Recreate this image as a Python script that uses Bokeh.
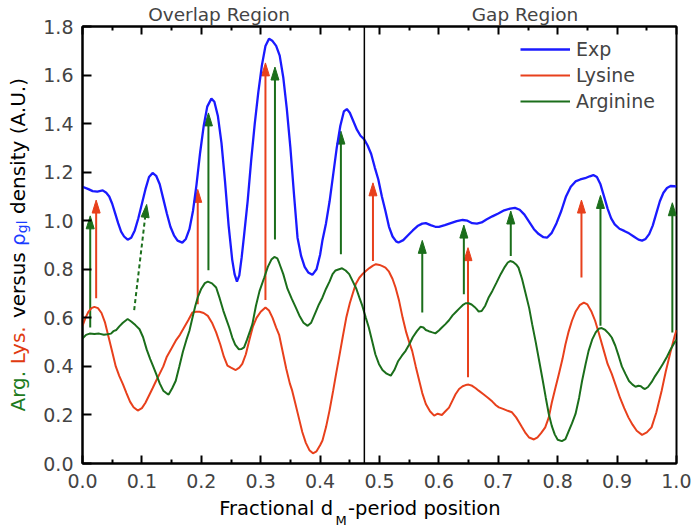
import math
from bokeh.plotting import figure
from bokeh.layouts import row, column
from bokeh.models import (Range1d, LinearAxis, Label, Legend, LegendItem,
                          FixedTicker, PrintfTickFormatter, Span)
from bokeh.embed import file_html
from bokeh.resources import INLINE

# ---------------- data ----------------
x_ticks = [0.0, 0.1, 0.2, 0.3, 0.4, 0.5, 0.6, 0.7, 0.8, 0.9, 1.0]
x_minor = [0.05, 0.15, 0.25, 0.35, 0.45, 0.55, 0.65, 0.75, 0.85, 0.95]
y_ticks = [0.0, 0.2, 0.4, 0.6, 0.8, 1.0, 1.2, 1.4, 1.6, 1.8]
region_boundary = 0.4745
region_names = ["Overlap Region", "Gap Region"]
region_centers = [0.23, 0.745]
series_names = ["Exp", "Lysine", "Arginine"]

exp_x = [0.000, 0.010, 0.017, 0.025, 0.034, 0.040, 0.045, 0.050, 0.055, 0.060, 0.065, 0.070,
         0.076, 0.082, 0.088, 0.094, 0.100, 0.106, 0.112, 0.118, 0.124, 0.130, 0.136, 0.142,
         0.148, 0.154, 0.160, 0.168, 0.174, 0.180, 0.186, 0.192, 0.198, 0.204, 0.210, 0.217,
         0.222, 0.228, 0.234, 0.240, 0.246, 0.252, 0.256, 0.260, 0.264, 0.268, 0.272, 0.278,
         0.284, 0.290, 0.296, 0.302, 0.308, 0.314, 0.320, 0.326, 0.332, 0.338, 0.344, 0.350,
         0.356, 0.362, 0.368, 0.374, 0.380, 0.387, 0.394, 0.400, 0.404, 0.410, 0.416, 0.422,
         0.428, 0.434, 0.440, 0.445, 0.450, 0.456, 0.462, 0.468, 0.474, 0.480, 0.486, 0.492,
         0.498, 0.504, 0.510, 0.516, 0.522, 0.528, 0.532, 0.540, 0.548, 0.556, 0.564, 0.572,
         0.578, 0.586, 0.594, 0.600, 0.610, 0.620, 0.630, 0.640, 0.648, 0.656, 0.664, 0.672,
         0.680, 0.690, 0.700, 0.710, 0.720, 0.728, 0.736, 0.744, 0.752, 0.760, 0.768, 0.776,
         0.782, 0.790, 0.798, 0.806, 0.814, 0.822, 0.830, 0.838, 0.846, 0.854, 0.860, 0.866,
         0.872, 0.878, 0.884, 0.890, 0.896, 0.904, 0.912, 0.920, 0.928, 0.936, 0.942, 0.948,
         0.954, 0.960, 0.966, 0.972, 0.978, 0.984, 0.990, 0.996, 1.000]
exp_y = [1.140, 1.130, 1.122, 1.120, 1.125, 1.115, 1.100, 1.070, 1.030, 0.990, 0.955, 0.935,
         0.922, 0.930, 0.960, 1.010, 1.070, 1.130, 1.180, 1.197, 1.185, 1.150, 1.090, 1.030,
         0.975, 0.940, 0.918, 0.910, 0.925, 0.965, 1.040, 1.150, 1.280, 1.390, 1.470, 1.503,
         1.490, 1.430, 1.320, 1.160, 0.980, 0.840, 0.780, 0.749, 0.775, 0.850, 0.940, 1.080,
         1.250, 1.400, 1.530, 1.640, 1.720, 1.750, 1.740, 1.720, 1.680, 1.590, 1.460, 1.300,
         1.110, 0.930, 0.855, 0.810, 0.787, 0.777, 0.800, 0.860, 0.920, 0.990, 1.080, 1.190,
         1.300, 1.390, 1.450, 1.460, 1.445, 1.410, 1.375, 1.350, 1.336, 1.310, 1.275, 1.220,
         1.170, 1.100, 1.040, 0.975, 0.935, 0.915, 0.910, 0.920, 0.940, 0.960, 0.978, 0.988,
         0.990, 0.982, 0.975, 0.975, 0.982, 0.990, 0.998, 1.003, 1.000, 0.990, 0.988, 0.993,
         1.005, 1.018, 1.030, 1.043, 1.050, 1.053, 1.045, 1.025, 0.995, 0.965, 0.945, 0.932,
         0.930, 0.950, 0.990, 1.040, 1.100, 1.140, 1.162, 1.170, 1.175, 1.183, 1.188, 1.180,
         1.150, 1.100, 1.050, 1.010, 0.985, 0.967, 0.958, 0.948, 0.935, 0.922, 0.918, 0.925,
         0.945, 0.980, 1.030, 1.080, 1.115, 1.135, 1.143, 1.142, 1.140]

lys_x = [0.000, 0.005, 0.010, 0.015, 0.020, 0.026, 0.032, 0.038, 0.044, 0.050, 0.056, 0.062,
         0.068, 0.074, 0.080, 0.086, 0.093, 0.100, 0.106, 0.112, 0.118, 0.124, 0.130, 0.136,
         0.142, 0.150, 0.157, 0.164, 0.171, 0.178, 0.185, 0.191, 0.197, 0.204, 0.211, 0.218,
         0.225, 0.232, 0.238, 0.244, 0.250, 0.258, 0.264, 0.269, 0.275, 0.281, 0.287, 0.293,
         0.300, 0.308, 0.314, 0.320, 0.326, 0.331, 0.337, 0.343, 0.349, 0.353, 0.358, 0.364,
         0.370, 0.376, 0.382, 0.388, 0.394, 0.400, 0.404, 0.410, 0.416, 0.422, 0.427, 0.432,
         0.438, 0.444, 0.450, 0.455, 0.460, 0.466, 0.472, 0.477, 0.483, 0.489, 0.494, 0.500,
         0.505, 0.510, 0.516, 0.522, 0.527, 0.533, 0.539, 0.545, 0.550, 0.555, 0.561, 0.567,
         0.572, 0.578, 0.585, 0.592, 0.598, 0.605, 0.611, 0.617, 0.623, 0.628, 0.634, 0.640,
         0.645, 0.650, 0.656, 0.662, 0.667, 0.675, 0.683, 0.690, 0.696, 0.701, 0.708, 0.716,
         0.723, 0.730, 0.735, 0.740, 0.746, 0.752, 0.760, 0.766, 0.772, 0.779, 0.785, 0.790,
         0.796, 0.802, 0.808, 0.813, 0.818, 0.824, 0.830, 0.837, 0.844, 0.850, 0.857, 0.863,
         0.870, 0.877, 0.884, 0.891, 0.898, 0.905, 0.912, 0.919, 0.926, 0.933, 0.942, 0.950,
         0.958, 0.966, 0.975, 0.982, 0.990, 0.997, 1.000]
lys_y = [0.567, 0.600, 0.625, 0.640, 0.645, 0.640, 0.620, 0.580, 0.520, 0.460, 0.400, 0.360,
         0.327, 0.290, 0.255, 0.232, 0.218, 0.228, 0.250, 0.280, 0.310, 0.341, 0.370, 0.400,
         0.440, 0.475, 0.506, 0.530, 0.560, 0.590, 0.622, 0.625, 0.625, 0.620, 0.608, 0.580,
         0.540, 0.490, 0.440, 0.403, 0.395, 0.385, 0.395, 0.410, 0.450, 0.510, 0.565, 0.600,
         0.625, 0.643, 0.630, 0.600, 0.560, 0.530, 0.460, 0.390, 0.330, 0.300, 0.250, 0.190,
         0.130, 0.085, 0.055, 0.042, 0.050, 0.075, 0.095, 0.150, 0.220, 0.300, 0.370, 0.437,
         0.520, 0.600, 0.660, 0.700, 0.739, 0.765, 0.782, 0.793, 0.805, 0.815, 0.821, 0.818,
         0.813, 0.807, 0.790, 0.760, 0.725, 0.670, 0.600, 0.540, 0.500, 0.464, 0.400, 0.340,
         0.290, 0.245, 0.215, 0.197, 0.205, 0.200, 0.215, 0.230, 0.260, 0.285, 0.307, 0.318,
         0.323, 0.325, 0.320, 0.310, 0.300, 0.285, 0.270, 0.255, 0.240, 0.231, 0.225, 0.217,
         0.211, 0.190, 0.170, 0.149, 0.125, 0.107, 0.099, 0.108, 0.125, 0.149, 0.190, 0.250,
         0.310, 0.369, 0.430, 0.490, 0.540, 0.588, 0.625, 0.652, 0.663, 0.655, 0.625, 0.588,
         0.530, 0.470, 0.410, 0.369, 0.320, 0.270, 0.228, 0.190, 0.160, 0.135, 0.118, 0.128,
         0.149, 0.210, 0.300, 0.380, 0.460, 0.526, 0.550]

arg_x = [0.000, 0.006, 0.012, 0.020, 0.028, 0.036, 0.042, 0.048, 0.052, 0.057, 0.062, 0.068,
         0.076, 0.082, 0.089, 0.096, 0.102, 0.108, 0.114, 0.119, 0.124, 0.130, 0.136, 0.141,
         0.145, 0.151, 0.157, 0.163, 0.169, 0.175, 0.180, 0.186, 0.190, 0.194, 0.200, 0.206,
         0.211, 0.218, 0.225, 0.231, 0.237, 0.242, 0.247, 0.252, 0.257, 0.263, 0.268, 0.272,
         0.277, 0.282, 0.286, 0.292, 0.298, 0.306, 0.312, 0.318, 0.323, 0.328, 0.331, 0.338,
         0.345, 0.352, 0.359, 0.365, 0.372, 0.379, 0.385, 0.392, 0.398, 0.404, 0.410, 0.416,
         0.421, 0.426, 0.432, 0.437, 0.443, 0.449, 0.455, 0.461, 0.466, 0.471, 0.477, 0.482,
         0.488, 0.493, 0.499, 0.505, 0.512, 0.519, 0.525, 0.531, 0.538, 0.544, 0.550, 0.556,
         0.563, 0.569, 0.574, 0.578, 0.583, 0.589, 0.594, 0.600, 0.605, 0.611, 0.617, 0.623,
         0.629, 0.635, 0.640, 0.645, 0.650, 0.655, 0.660, 0.664, 0.667, 0.672, 0.678, 0.684,
         0.690, 0.697, 0.704, 0.711, 0.716, 0.720, 0.725, 0.730, 0.734, 0.740, 0.746, 0.752,
         0.757, 0.763, 0.769, 0.775, 0.780, 0.785, 0.790, 0.795, 0.800, 0.807, 0.813, 0.818,
         0.824, 0.830, 0.836, 0.841, 0.847, 0.852, 0.858, 0.864, 0.869, 0.874, 0.880, 0.886,
         0.891, 0.897, 0.903, 0.908, 0.914, 0.920, 0.926, 0.931, 0.936, 0.940, 0.944, 0.947,
         0.952, 0.958, 0.964, 0.970, 0.977, 0.984, 0.990, 0.997, 1.000]
arg_y = [0.515, 0.530, 0.535, 0.533, 0.535, 0.530, 0.532, 0.535, 0.545, 0.550, 0.565, 0.580,
         0.595, 0.585, 0.570, 0.553, 0.520, 0.470, 0.430, 0.400, 0.369, 0.330, 0.300, 0.290,
         0.284, 0.310, 0.341, 0.400, 0.460, 0.510, 0.547, 0.610, 0.650, 0.684, 0.720, 0.743,
         0.749, 0.742, 0.725, 0.680, 0.630, 0.595, 0.560, 0.520, 0.490, 0.471, 0.472, 0.478,
         0.510, 0.545, 0.574, 0.650, 0.710, 0.766, 0.810, 0.840, 0.851, 0.845, 0.827, 0.780,
         0.720, 0.680, 0.643, 0.610, 0.580, 0.567, 0.580, 0.620, 0.655, 0.684, 0.720, 0.750,
         0.780, 0.795, 0.800, 0.804, 0.795, 0.780, 0.750, 0.720, 0.684, 0.650, 0.600, 0.560,
         0.500, 0.450, 0.410, 0.385, 0.370, 0.362, 0.385, 0.420, 0.445, 0.464, 0.490, 0.520,
         0.545, 0.563, 0.560, 0.550, 0.545, 0.540, 0.536, 0.548, 0.560, 0.574, 0.590, 0.610,
         0.625, 0.640, 0.652, 0.660, 0.660, 0.655, 0.645, 0.635, 0.626, 0.628, 0.650, 0.685,
         0.711, 0.745, 0.780, 0.810, 0.828, 0.834, 0.830, 0.820, 0.807, 0.760, 0.700, 0.640,
         0.574, 0.500, 0.420, 0.340, 0.270, 0.204, 0.155, 0.120, 0.098, 0.092, 0.100, 0.130,
         0.165, 0.204, 0.270, 0.340, 0.410, 0.464, 0.510, 0.540, 0.555, 0.558, 0.550, 0.535,
         0.519, 0.485, 0.440, 0.400, 0.369, 0.340, 0.325, 0.316, 0.320, 0.318, 0.310, 0.307,
         0.315, 0.335, 0.360, 0.382, 0.410, 0.440, 0.470, 0.499, 0.510]

# arrows: start (x, y) -> tip (x, y)
lys_arrow_x0 = [0.023, 0.194, 0.308, 0.489, 0.649, 0.840]
lys_arrow_y0 = [0.681, 0.656, 0.673, 0.834, 0.355, 0.766]
lys_arrow_x1 = [0.023, 0.194, 0.308, 0.489, 0.649, 0.840]
lys_arrow_y1 = [1.085, 1.129, 1.650, 1.156, 0.889, 1.085]

arg_arrow_x0 = [0.013, 0.212, 0.324, 0.435, 0.572, 0.642, 0.721, 0.872, 0.993]
arg_arrow_y0 = [0.560, 0.796, 0.923, 0.862, 0.622, 0.697, 0.855, 0.567, 0.540]
arg_arrow_x1 = [0.013, 0.212, 0.324, 0.435, 0.572, 0.642, 0.721, 0.872, 0.993]
arg_arrow_y1 = [1.020, 1.444, 1.633, 1.369, 0.919, 0.982, 1.040, 1.104, 1.074]

arg_dash_x0 = [0.087]
arg_dash_y0 = [0.632]
arg_dash_x1 = [0.108]
arg_dash_y1 = [1.067]

# ---------------- styling ----------------
BLUE = "#1a1aff"
RED = "#e8401c"
GREEN = "#1b6e1b"
FONT = "DejaVu Sans"

# page pieces (canvas starts at page origin)
LW = 40              # left strip (y title)
MW = 651             # main plot width
MH, BH = 495, 35     # main plot, bottom strip heights
TOTAL_H = MH + BH
BL, BR, BT, BB = 41, 15, 25, 32
FW, FH = MW - BL - BR, MH - BT - BB

p = figure(width=MW, height=MH, output_backend="svg", toolbar_location=None,
           x_range=Range1d(0, 1), y_range=Range1d(0, 1.8),
           min_border_left=BL, min_border_right=BR, min_border_top=BT,
           min_border_bottom=BB)
p.grid.visible = False
p.outline_line_color = "black"
p.outline_line_width = 2
p.background_fill_color = "white"
p.border_fill_color = "white"

xt = FixedTicker(ticks=x_ticks, minor_ticks=x_minor)
yt = FixedTicker(ticks=y_ticks, minor_ticks=[])
for ax in p.xaxis:
    ax.ticker = xt
    ax.formatter = PrintfTickFormatter(format="%.1f")
    ax.major_tick_in = 8
    ax.major_tick_out = 0
    ax.minor_tick_in = 4
    ax.minor_tick_out = 0
    ax.major_tick_line_width = 2
    ax.minor_tick_line_width = 2
    ax.axis_line_width = 2
    ax.major_label_text_font = FONT
    ax.major_label_text_font_size = "19px"
    ax.major_label_standoff = 10
for ax in p.yaxis:
    ax.ticker = yt
    ax.formatter = PrintfTickFormatter(format="%.1f")
    ax.major_tick_in = 9
    ax.major_tick_out = 0
    ax.minor_tick_in = 0
    ax.minor_tick_out = 0
    ax.major_tick_line_width = 2
    ax.axis_line_width = 2
    ax.major_label_text_font = FONT
    ax.major_label_text_font_size = "19px"
    ax.major_label_standoff = 9

# top tick marks (no labels)
top = LinearAxis(ticker=xt, major_tick_in=8, major_tick_out=0, minor_tick_in=4,
                 minor_tick_out=0, major_tick_line_width=2, minor_tick_line_width=2,
                 axis_line_width=2, major_label_text_font_size="0px",
                 major_label_text_color=None, major_label_standoff=0)
p.add_layout(top, "above")

# region names written as labels of a bare top axis
regions = LinearAxis(ticker=FixedTicker(ticks=region_centers, minor_ticks=[]),
                     major_label_overrides={c: n for c, n in zip(region_centers, region_names)},
                     axis_line_color=None, major_tick_line_color=None,
                     minor_tick_line_color=None, major_tick_in=0, major_tick_out=0,
                     minor_tick_in=0, minor_tick_out=0, major_label_standoff=2,
                     major_label_text_font=FONT, major_label_text_font_size="18.5px")
p.add_layout(regions, "above")

p.add_layout(Span(location=region_boundary, dimension="height",
                  line_color="black", line_width=1.5))

# arrows (shaft + triangular head computed in pixel space)
PXX = FW / 1.0
PXY = FH / 1.8


def draw_arrows(x0s, y0s, x1s, y1s, color, dash="solid", L=13.0, hw=4.0):
    hx, hy, sx0, sy0, sx1, sy1 = [], [], [], [], [], []
    for x0, y0, x1, y1 in zip(x0s, y0s, x1s, y1s):
        dx, dy = (x1 - x0) * PXX, (y1 - y0) * PXY
        n = math.hypot(dx, dy)
        ux, uy = dx / n, dy / n
        tx, ty = x1 * PXX, y1 * PXY
        bx, by = tx - L * ux, ty - L * uy
        qx, qy = -uy, ux
        hx.append([tx / PXX, (bx + hw * qx) / PXX, (bx - hw * qx) / PXX])
        hy.append([ty / PXY, (by + hw * qy) / PXY, (by - hw * qy) / PXY])
        sx0.append(x0)
        sy0.append(y0)
        sx1.append((bx + 2 * ux) / PXX)
        sy1.append((by + 2 * uy) / PXY)
    p.segment(sx0, sy0, sx1, sy1, line_color=color, line_width=2, line_dash=dash)
    p.patches(hx, hy, fill_color=color, line_color=color, line_width=1)


draw_arrows(lys_arrow_x0, lys_arrow_y0, lys_arrow_x1, lys_arrow_y1, RED)
draw_arrows(arg_arrow_x0, arg_arrow_y0, arg_arrow_x1, arg_arrow_y1, GREEN)
draw_arrows(arg_dash_x0, arg_dash_y0, arg_dash_x1, arg_dash_y1, GREEN, dash="4 3")

r_exp = p.line(exp_x, exp_y, line_color=BLUE, line_width=2.3)
r_lys = p.line(lys_x, lys_y, line_color=RED, line_width=2)
r_arg = p.line(arg_x, arg_y, line_color=GREEN, line_width=2)

legend = Legend(items=[LegendItem(label=series_names[0], renderers=[r_exp]),
                       LegendItem(label=series_names[1], renderers=[r_lys]),
                       LegendItem(label=series_names[2], renderers=[r_arg])],
                location=(438, 349), padding=0, margin=0, spacing=0,
                border_line_color=None, background_fill_alpha=0,
                glyph_width=50, glyph_height=26, label_height=26,
                label_standoff=6, label_text_font=FONT,
                label_text_font_size="19px")
p.add_layout(legend)


# ---------- text strips (small axis-less figures)
def strip(w, h, xspan):
    f = figure(width=w, height=h, output_backend="svg", toolbar_location=None,
               x_range=Range1d(0, xspan), y_range=Range1d(0, h),
               x_axis_type=None, y_axis_type=None,
               min_border=0, min_border_left=0, min_border_right=0,
               min_border_top=0, min_border_bottom=0)
    f.grid.visible = False
    f.outline_line_color = None
    f.background_fill_color = "white"
    f.border_fill_color = "white"
    return f


def lab(f, text, x, y, color="black", size="20px", angle=0.0, align="left"):
    f.add_layout(Label(x=x, y=y, text=text, text_color=color, text_font=FONT,
                       text_font_size=size, angle=angle, text_align=align,
                       text_baseline="alphabetic"))


# bottom strip: x title with subscript
b_strip = strip(MW, BH, FW)
lab(b_strip, "Fractional d", 137, 22, size="19.5px")
lab(b_strip, "M", 253.5, 10.5, size="13px")
lab(b_strip, "-period position", 266, 22, size="19.5px")

# left strip: multicoloured rotated y title
l_strip = strip(LW, TOTAL_H, LW)
A = math.pi / 2
y0 = TOTAL_H - 411
lab(l_strip, "Arg.", 17, y0, color="#1e7b1e", angle=A)
lab(l_strip, "Lys.", 17, y0 + 47.3, color="#e03a10", angle=A)
lab(l_strip, "versus", 17, y0 + 93.4, angle=A)
lab(l_strip, "\u03c1", 17, y0 + 165.6, color="#1a3cff", angle=A)
lab(l_strip, "gl", 21, y0 + 178.3, color="#1a3cff", size="14px", angle=A)
lab(l_strip, "density (A.U.)", 17, y0 + 197.5, angle=A)

page = row(l_strip, column(p, b_strip))
open("out.html", "w").write(file_html(page, INLINE))
